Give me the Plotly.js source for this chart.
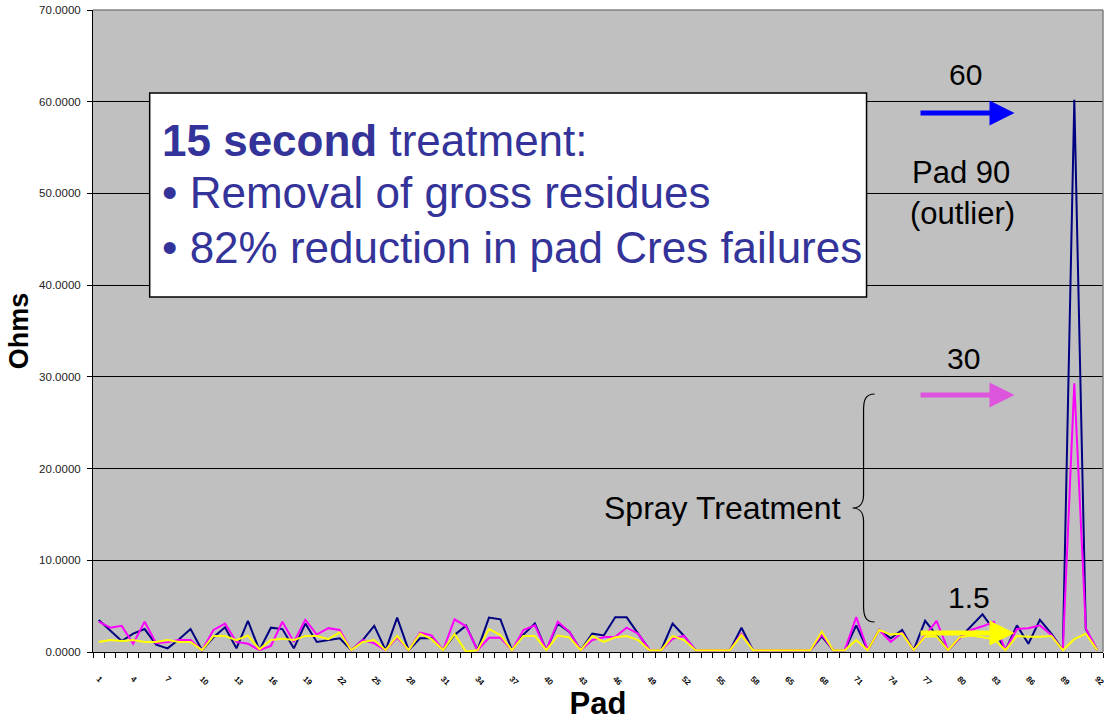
<!DOCTYPE html>
<html>
<head>
<meta charset="utf-8">
<script src="https://cdn.plot.ly/plotly-3.0.1.min.js"></script>
<style>html,body{margin:0;padding:0;background:#fff;}#chart{width:1112px;height:721px;}</style>
</head>
<body>
<div id="chart"></div>
<script>
// ---- data ----
var padIndex = [];
for (var k = 0; k < 88; k++) padIndex.push(k);
var pads = padIndex.map(function(i){ return String(i < 60 ? i + 1 : i + 5); });

var seriesNavy = [
3.5, 2.4, 1.2, 2.0, 2.5, 0.8, 0.4, 1.4, 2.5, 0.2, 1.6, 2.7, 0.4, 3.4, 0.2,
2.65, 2.5, 0.4, 3.1, 1.1, 1.3, 1.5, 0.2, 1.3, 2.85, 0.2, 3.75, 0.2, 1.5, 1.5,
0.2, 1.85, 2.87, 0.2, 3.75, 3.56, 0.2, 1.9, 3.1, 0.2, 3.1, 2.2, 0.2, 2.0, 1.8,
3.78, 3.78, 2.0, 0.2, 0.2, 3.1, 1.75, 0.2, 0.2, 0.2, 0.2, 2.65, 0.2, 0.2, 0.2,
0.2, 0.2, 0.2, 1.7, 0.2, 0.2, 2.9, 0.2, 2.4, 1.5, 2.4, 0.2, 3.4, 1.85, 0.2,
1.5, 2.8, 4.1, 2.4, 0.2, 2.9, 0.9, 3.5, 2.0, 0.2, 60.2, 2.5, 0.2
];
var seriesMagenta = [
3.3, 2.65, 2.85, 0.9, 3.3, 0.95, 1.1, 1.3, 1.3, 0.2, 2.4, 3.1, 1.1, 0.9, 0.2,
0.65, 3.3, 1.1, 3.5, 1.9, 2.6, 2.4, 0.2, 1.3, 0.95, 0.2, 1.6, 0.2, 2.1, 1.8,
0.2, 3.56, 2.8, 0.2, 1.55, 1.55, 0.2, 2.4, 2.9, 0.2, 3.3, 2.2, 0.2, 1.3, 1.6,
1.65, 2.65, 2.0, 0.2, 0.2, 1.45, 1.75, 0.2, 0.2, 0.2, 0.2, 2.0, 0.2, 0.2, 0.2,
0.2, 0.2, 0.2, 1.9, 0.2, 0.2, 3.8, 0.2, 2.4, 1.1, 2.1, 0.2, 1.85, 3.4, 0.2,
1.5, 2.4, 2.8, 3.3, 0.2, 2.5, 2.6, 2.9, 1.85, 0.2, 29.3, 2.6, 0.2
];
var seriesYellow = [
1.1, 1.3, 1.2, 1.3, 1.1, 1.1, 1.3, 1.1, 1.1, 0.2, 1.75, 1.75, 1.3, 1.8, 0.3,
1.3, 1.45, 1.3, 1.75, 1.75, 1.4, 2.15, 0.2, 1.1, 1.3, 0.2, 1.75, 0.2, 2.0, 1.4,
0.2, 1.95, 0.05, 0.2, 2.5, 1.85, 0.2, 1.75, 1.75, 0.2, 1.8, 1.6, 0.2, 1.75, 1.1,
1.6, 1.75, 1.3, 0.2, 0.2, 1.75, 1.3, 0.2, 0.2, 0.2, 0.2, 1.85, 0.2, 0.2, 0.2,
0.2, 0.2, 0.2, 2.2, 0.2, 0.2, 1.3, 0.2, 2.4, 1.9, 2.0, 0.2, 1.7, 1.7, 0.2,
1.6, 1.8, 1.6, 1.4, 0.2, 1.75, 1.65, 1.65, 1.75, 0.2, 1.4, 2.0, 0.2
];
var labelIdx = padIndex.filter(function(i){ return i % 3 === 0; });
var labelText = labelIdx.map(function(i){ return pads[i]; });

// ---- layout helpers (pixel -> paper) ----
var L = 93.3, R = 1103.5, T = 10, B = 652;
function px(x){ return (x - L) / (R - L); }
function py(y){ return (B - y) / (B - T); }
var FONT = 'Arial, "Liberation Sans", sans-serif';

var traces = [
  {x: padIndex, y: seriesNavy, type:'scatter', mode:'lines', line:{color:'#000080', width:2}, hoverinfo:'y'},
  {x: padIndex, y: seriesMagenta, type:'scatter', mode:'lines', line:{color:'#ff00ff', width:2}, hoverinfo:'y'},
  {x: padIndex, y: seriesYellow, type:'scatter', mode:'lines', line:{color:'#ffff00', width:2}, hoverinfo:'y'}
];

function txt(t, x, y, size, opts){
  var a = {text:t, x:px(x), y:py(y), xref:'paper', yref:'paper', showarrow:false,
    xanchor:'center', yanchor:'middle', font:{family:FONT, size:size, color:'#000'}};
  if (opts) for (var k in opts) a[k] = opts[k];
  return a;
}
function arrow(color, x0, x1, y){
  return {x:px(x1), y:py(y), xref:'paper', yref:'paper', ax:x0 - x1, ay:0,
    showarrow:true, arrowhead:2, arrowsize:1, arrowwidth:5, arrowcolor:color, standoff:0, startstandoff:0};
}

var boxColor = '#333399';
var boxFont = {family:FONT, size:44, color:boxColor};
var annotations = [
  txt('<b>15 second</b> treatment:', 160, 140, 44, {xanchor:'left', font:boxFont}),
  txt('\u2022 Removal of gross residues', 160, 193, 44, {xanchor:'left', font:boxFont}),
  txt('\u2022 82% reduction in pad Cres failures', 160, 247, 44, {xanchor:'left', font:boxFont}),
  txt('60', 966, 75, 30),
  txt('Pad 90', 961, 173, 31),
  txt('(outlier)', 963, 213, 31),
  txt('30', 964, 358, 30),
  txt('Spray Treatment', 843, 508, 32, {xanchor:'right'}),
  txt('1.5', 969, 597, 30),
  arrow('#0000ff', 918, 1015, 113),
  arrow('#dd55dd', 918, 1015, 395),
  arrow('#ffff00', 918, 1015, 633)
];

function P(x, y){ return px(x).toFixed(5) + ',' + py(y).toFixed(5); }
var bracePath = 'M' + P(875,394) + ' C' + P(866,394) + ' ' + P(864,400) + ' ' + P(864,410) +
  ' L' + P(864,495) + ' C' + P(864,503) + ' ' + P(860,508) + ' ' + P(853,508) +
  ' C' + P(860,508) + ' ' + P(864,513) + ' ' + P(864,521) +
  ' L' + P(864,606) + ' C' + P(864,616) + ' ' + P(866,622) + ' ' + P(875,622);

var shapes = [
  {type:'line', xref:'paper', yref:'paper', x0:0, x1:1, y0:1, y1:1, line:{color:'#808080', width:1.5}},
  {type:'line', xref:'paper', yref:'paper', x0:1, x1:1, y0:0, y1:1, line:{color:'#808080', width:1.5}},
  {type:'rect', xref:'paper', yref:'paper', x0:px(150), x1:px(867), y0:py(297), y1:py(93),
    fillcolor:'#ffffff', line:{color:'#000000', width:1.5}, layer:'above'},
  {type:'path', xref:'paper', yref:'paper', path:bracePath, line:{color:'#000', width:1.2}, layer:'above'}
];

var layout = {
  width:1112, height:721,
  margin:{l:93.3, r:8.5, t:10, b:69},
  paper_bgcolor:'#ffffff', plot_bgcolor:'#c0c0c0',
  showlegend:false,
  font:{family:FONT, color:'#000'},
  xaxis:{
    type:'linear', range:[-0.5, 87.5], autorange:false,
    tickmode:'array', tickvals:labelIdx, ticktext:labelText, tickangle:45,
    ticks:'outside', ticklen:18, tickcolor:'rgba(0,0,0,0)',
    tickfont:{family:FONT, size:8, color:'#000', weight:'bold'},
    minor:{tickmode:'linear', tick0:-0.5, dtick:1, ticks:'outside', ticklen:5, tickcolor:'#000', tickwidth:1, showgrid:false},
    showgrid:false, zeroline:false, showline:true, linecolor:'#000', linewidth:1,
    title:{text:'<b>Pad</b>', font:{family:FONT, size:31, color:'#000'}, standoff:6},
    automargin:false, fixedrange:true
  },
  yaxis:{
    range:[0,70], autorange:false, tickmode:'linear', tick0:0, dtick:10, tickformat:'.4f',
    ticks:'outside', ticklen:5, tickcolor:'#000', tickfont:{family:FONT, size:11.5, color:'#222'},
    ticklabelstandoff:4,
    showgrid:true, gridcolor:'#000', gridwidth:1, zeroline:false,
    showline:true, linecolor:'#000', linewidth:1,
    title:{text:'<b>Ohms</b>', font:{family:FONT, size:27, color:'#000'}, standoff:2},
    automargin:false, fixedrange:true
  },
  annotations:annotations,
  shapes:shapes
};

Plotly.newPlot('chart', traces, layout, {displayModeBar:false, staticPlot:true});
</script>
</body>
</html>
